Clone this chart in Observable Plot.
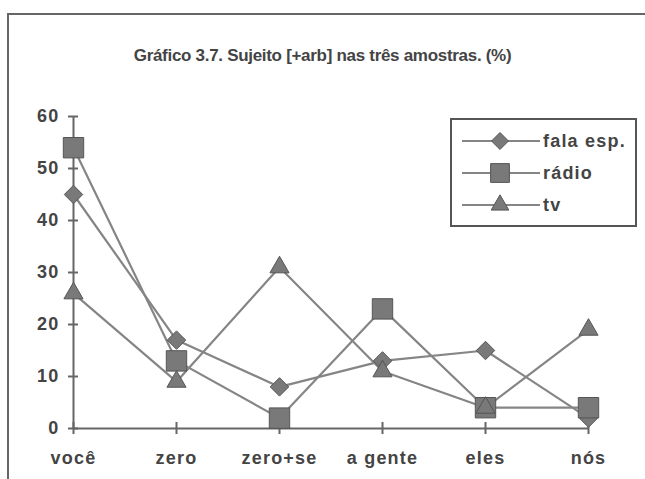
<!DOCTYPE html>
<html>
<head>
<meta charset="utf-8">
<script src="https://cdn.jsdelivr.net/npm/d3@7"></script>
<script src="https://cdn.jsdelivr.net/npm/@observablehq/plot@0.6"></script>
<style>
  html, body { margin: 0; padding: 0; background: #fff; }
  #wrap { position: relative; width: 645px; height: 479px; overflow: hidden; font-family: "Liberation Sans", Arial, sans-serif; }
  #frame { position: absolute; left: 7px; top: 13px; width: 660px; height: 500px; border-top: 2px solid #666; border-left: 2px solid #666; }
  #title { position: absolute; left: 0; width: 645px; top: 46px; text-align: center; font-weight: bold; font-size: 17px; letter-spacing: -0.3px; color: #444; }
  #chart { position: absolute; left: 0; top: 0; }
  #legend { position: absolute; left: 450px; top: 118px; width: 187px; height: 109px; border: 2px solid #555; box-sizing: border-box; background: #fff; }
  #chart svg text { letter-spacing: 1.2px; }
</style>
</head>
<body>
<div id="wrap">
  <div id="frame"></div>
  <div id="chart"></div>
  <div id="title">Gráfico 3.7. Sujeito [+arb] nas três amostras. (%)</div>
  <div id="legend"></div>
</div>
<script>
const categories = ["você", "zero", "zero+se", "a gente", "eles", "nós"];
const seriesNames = ["fala esp.", "rádio", "tv"];
const falaEsp = [45, 17, 8, 13, 15, 2];
const radio = [54, 13, 2, 23, 4, 4];
const tv = [26, 9, 31, 11, 4, 19];
const yTicks = [0, 10, 20, 30, 40, 50, 60];

const seriesValues = [falaEsp, radio, tv];
const data = [];
seriesNames.forEach((s, i) => categories.forEach((c, j) => data.push({series: s, cat: c, value: seriesValues[i][j]})));

const lineColor = "#858585";
const fillColor = "#797979";
const edgeColor = "#555";
const textColor = "#444";
const rDiamond = 8.3, rSquare = 11.5, rTriangle = 7.1;

const chart = Plot.plot({
  width: 645,
  height: 479,
  marginLeft: 73,
  marginRight: 57,
  marginTop: 116,
  marginBottom: 51,
  style: {background: "transparent", fontFamily: "'Liberation Sans', Arial, sans-serif"},
  x: {type: "point", domain: categories, padding: 0},
  y: {domain: [0, 60]},
  marks: [
    Plot.ruleY([0], {stroke: "#666", strokeWidth: 2}),
    Plot.ruleX([categories[0]], {y1: 0, y2: 60, stroke: "#666", strokeWidth: 2}),
    Plot.ruleY(yTicks, {y: d => d, x1: () => categories[0], x2: () => categories[0], insetLeft: -5, insetRight: -5, stroke: "#666", strokeWidth: 2}),
    Plot.ruleX(categories, {x: d => d, y1: () => 0, y2: () => 0, insetTop: -6, insetBottom: -6, stroke: "#666", strokeWidth: 2}),
    Plot.axisY({ticks: yTicks, tickSize: 0, tickPadding: 14, fontSize: 18, fontWeight: "bold", fill: textColor, label: null}),
    Plot.axisX({tickSize: 0, tickPadding: 23, fontSize: 18, fontWeight: "bold", fill: textColor, label: null}),
    Plot.line(data, {x: "cat", y: "value", z: "series", stroke: lineColor, strokeWidth: 2.2}),
    Plot.dot(data.filter(d => d.series === "fala esp."), {x: "cat", y: "value", symbol: () => "diamond2", r: rDiamond, fill: fillColor, stroke: edgeColor, strokeWidth: 1}),
    Plot.dot(data.filter(d => d.series === "rádio"), {x: "cat", y: "value", symbol: () => "square", r: rSquare, fill: fillColor, stroke: edgeColor, strokeWidth: 1}),
    Plot.dot(data.filter(d => d.series === "tv"), {x: "cat", y: "value", symbol: () => "triangle", r: rTriangle, fill: fillColor, stroke: edgeColor, strokeWidth: 1})
  ]
});
document.getElementById("chart").appendChild(chart);

// legend
const lsvg = d3.select("#legend").append("svg").attr("width", 183).attr("height", 105);
const symbols = [d3.symbolDiamond2, d3.symbolSquare, d3.symbolTriangle];
const sizes = [Math.PI * rDiamond * rDiamond, Math.PI * rSquare * rSquare, Math.PI * rTriangle * rTriangle];
seriesNames.forEach((s, i) => {
  const y = 21 + i * 32;
  const g = lsvg.append("g");
  g.append("line").attr("x1", 10).attr("x2", 88).attr("y1", y).attr("y2", y).attr("stroke", lineColor).attr("stroke-width", 2.2);
  g.append("path").attr("d", d3.symbol(symbols[i], sizes[i] * 0.85)()).attr("transform", `translate(48,${y})`).attr("fill", fillColor).attr("stroke", edgeColor);
  g.append("text").attr("x", 91).attr("y", y).attr("dy", "0.35em").attr("font-size", 18).attr("font-weight", "bold").attr("letter-spacing", "1.2px").attr("fill", textColor).attr("font-family", "'Liberation Sans', Arial, sans-serif").text(s);
});
</script>
</body>
</html>
